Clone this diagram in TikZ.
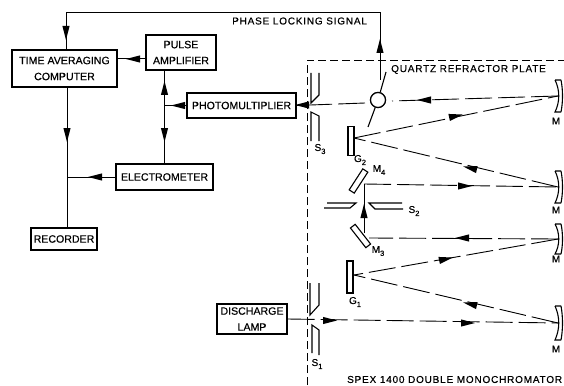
\documentclass[tikz,border=0pt]{standalone}
\usepackage{fontspec}
\setmainfont[FakeBold=0.5]{Liberation Sans}
\tikzset{
 x=1pt,y=-1pt,
 box/.style={draw,line width=1.2pt,align=center,inner sep=0pt,font=\fontsize{10.6}{16}\selectfont},
 lab/.style={inner sep=0pt,font=\fontsize{10}{12}\selectfont},
 wire/.style={line width=1pt},
 beam/.style={line width=.9pt,dash pattern=on 27pt off 6pt},
 part/.style={line width=1.1pt},
}
\newcommand{\arw}[2]{\fill[shift={(#1)},rotate=-#2] (-7pt,-3.6pt)--(7pt,0pt)--(-7pt,3.6pt)--cycle;}
\newcommand{\sbs}[1]{\raisebox{-3pt}{\fontsize{7.5}{8}\selectfont #1}}
\begin{document}
\begin{tikzpicture}
\useasboundingbox (0,0) rectangle (564,385);
% boxes
\node[box,minimum width=105pt,minimum height=37pt] (tac) at (64.5,68.5) {TIME AVERAGING\\COMPUTER};
\node[box,minimum width=70pt,minimum height=35pt] (pa) at (181,52.5) {PULSE\\AMPLIFIER};
\node[box,minimum width=109pt,minimum height=25pt] (pm) at (241.5,105.5) {PHOTOMULTIPLIER};
\node[box,minimum width=97pt,minimum height=26pt] (el) at (164.5,177) {ELECTROMETER};
\node[box,minimum width=66pt,minimum height=22pt] (rec) at (64,239) {RECORDER};
\node[box,minimum width=70pt,minimum height=30pt] (dl) at (252,319) {DISCHARGE\\LAMP};
% coordinates
\coordinate (toptl) at (66,13); \coordinate (toptr) at (380.5,13);
\coordinate (plateout) at (380,80);
\coordinate (jpm) at (164.5,105.5); \coordinate (jel) at (67,177);
% wires
\draw[wire] (plateout)--(plateout|-toptr)--(toptl)--(toptl|-tac.north);
\draw[wire] (pa.west|-0,59)--(tac.east|-0,59);
\draw[wire] (jpm|-pa.south)--(jpm|-el.north);
\draw[wire] (pm.west)--(jpm);
\draw[wire] (jel|-tac.south)--(jel|-rec.north);
\draw[wire] (el.west)--(jel);
\arw{66,33}{90}
\arw{380,46}{-90}
\arw{133,59}{180}
\arw{164.5,88}{-90}
\arw{164.5,135}{90}
\arw{178,105.5}{180}
\arw{67,135}{90}
\arw{95,177}{180}
% dashed enclosure
\coordinate (dbl) at (307,385); \coordinate (dtl) at (307,60); \coordinate (dtr) at (564,60);
\draw[line width=.9pt,dash pattern=on 8pt off 4pt] (dbl)--(dtl)--(dtr);
\node[lab,anchor=west] (qtxt) at (391,69.5) {\addfontfeature{LetterSpace=8}QUARTZ REFRACTOR PLATE};
\node[lab,anchor=west] (ptxt) at (232,21) {\addfontfeature{LetterSpace=8}PHASE LOCKING SIGNAL};
\node[lab,anchor=west] (stxt) at (347,379.5) {\addfontfeature{LetterSpace=8}SPEX 1400 DOUBLE MONOCHROMATOR};
% slits
\draw[part] (311,73)--(311,103)--(319,95)--(319,73);
\draw[part] (311,141)--(311,112)--(319,116)--(319,141);
\draw[part] (310,283)--(310,315)--(319,305)--(319,283);
\draw[part] (312,353)--(312,325)--(319,330)--(319,355);
\draw[part] (327,203)--(356,203)--(350,208)--(324,208);
\draw[part] (402,203)--(369,203)--(375,209)--(403,209);
\node[lab] (s3) at (320,149) {S\sbs{3}};
\node[lab] (s2) at (414,211) {S\sbs{2}};
\node[lab] (s1) at (317,364) {S\sbs{1}};
% gratings
\node[draw,part,minimum width=6pt,minimum height=29pt,inner sep=0pt] (g2) at (351,141) {};
\node[draw,part,minimum width=6pt,minimum height=32pt,inner sep=0pt] (g1) at (350,277) {};
\node[lab] (g2l) at (360,160) {G\sbs{2}};
\node[lab] (g1l) at (355,302) {G\sbs{1}};
% folding mirrors
\node[draw,part,minimum width=6pt,minimum height=25pt,inner sep=0pt,rotate=-33] (m4) at (358.5,181) {};
\node[draw,part,minimum width=6pt,minimum height=25pt,inner sep=0pt,rotate=38] (m3) at (360.5,236) {};
\node[lab] (m4l) at (379,170) {M\sbs{4}};
\node[lab] (m3l) at (378,251) {M\sbs{3}};
% collimating mirrors
\foreach \n/\yc/\h in {a/96/16,b/187/16,c/239/15,d/323/17}{
 \coordinate (mir\n) at (558,\yc);
 \draw[part] (555,\yc-\h) .. controls (560,\yc-6) and (560,\yc+6) .. (555,\yc+\h)--(561,\yc+\h) (555,\yc-\h)--(561,\yc-\h);
 \draw[part] (561,\yc-\h) .. controls (563,\yc-6) and (563,\yc+6) .. (561,\yc+\h);
}
\node[lab] (ma) at (556,121) {M};
\node[lab] (mb) at (556,210) {M};
\node[lab] (mc) at (556,259) {M};
\node[lab] (md) at (556,349) {M};
% quartz plate
\node[draw,line width=1.2pt,circle,minimum size=15pt,inner sep=0pt] (q) at (378,100) {};
\coordinate (pl1) at (368,127);\coordinate (pl2) at (386,72);
\draw[part] (pl1)--(q) (q)--(pl2);
\node[draw,line width=1.2pt,circle,fill=white,minimum size=15pt,inner sep=0pt] at (q) {};
% beams
\coordinate (g2e) at (354,138); \coordinate (g1e) at (354,275);
\coordinate (qr) at (392,101); \coordinate (ql) at (365,103);
\coordinate (m4r) at (364,184); \coordinate (m3r) at (364,233); \coordinate (m3e) at (369,238);
\draw[beam] (mira)--(qr);
\draw[beam] (ql)--(pm.east);
\draw[beam] (g2e)--(mira);
\draw[beam] (mirb)--(g2e);
\draw[beam] (m4r)--(mirb);
\draw[beam] (mirc)--(m3e);
\draw[beam] (mirc)--(g1e);
\draw[beam] (mird)--(g1e);
\draw[beam] (dl.east)--(mird);
\draw[wire] (m4r)--(m3r);
\arw{302,105}{180}
\arw{424,100}{180}
\arw{456,116}{-12}
\arw{470,168}{193}
\arw{465,186}{0}
\arw{462,238}{180}
\arw{446,259}{-12}
\arw{470,304}{193}
\arw{330,320.5}{0}
\arw{468,323}{0}
\arw{364,211}{-90}
\end{tikzpicture}
\end{document}
